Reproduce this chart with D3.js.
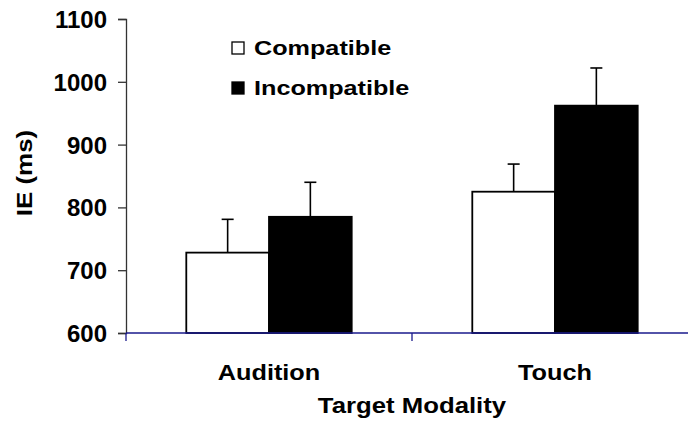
<!DOCTYPE html>
<html>
<head>
<meta charset="utf-8">
<script src="https://cdn.jsdelivr.net/npm/d3@7"></script>
<style>
  html, body { margin: 0; padding: 0; background: #fff; }
  svg text { font-family: "Liberation Sans", Arial, sans-serif; font-weight: bold; fill: #000; }
</style>
</head>
<body>
<svg id="chart" width="688" height="421"></svg>
<script>
// Inhibitory effect (IE) by target modality and compatibility
const categories = ["Audition", "Touch"];
const seriesNames = ["Compatible", "Incompatible"];
const compatibleMeans = [728, 825];
const incompatibleMeans = [785, 962];
const compatibleErr = [53, 44];
const incompatibleErr = [55, 60];
const yTicks = [600, 700, 800, 900, 1000, 1100];

const svg = d3.select("#chart");
const plotLeft = 126, plotTop = 19, plotBottom = 333, plotRight = 698;

const y = d3.scaleLinear().domain([600, 1100]).range([plotBottom, plotTop]);
const x0 = d3.scaleBand().domain(categories).range([plotLeft, plotRight]).paddingInner(0).paddingOuter(0);
const x1 = d3.scaleBand().domain(seriesNames).range([0, x0.bandwidth()]).paddingInner(0).paddingOuter(0.729);

const fills = { "Compatible": "#fff", "Incompatible": "#000" };
const rows = categories.map((c, i) => ({
  cat: c,
  vals: [
    { s: "Compatible", v: compatibleMeans[i], e: compatibleErr[i] },
    { s: "Incompatible", v: incompatibleMeans[i], e: incompatibleErr[i] }
  ]
}));

// wide bold label: text placed in a group that is stretched horizontally
function wideText(parent, tx, ty, rot, sx, size, anchor, str) {
  const g = parent.append("g")
    .attr("transform", `translate(${tx},${ty}) rotate(${rot}) scale(${sx},1)`);
  g.append("text").attr("x", 0).attr("y", 0)
    .attr("text-anchor", anchor).attr("font-size", size).text(str);
  return g;
}

// y axis
const yAxis = svg.append("g").attr("transform", `translate(${plotLeft},0)`)
  .call(d3.axisLeft(y).tickValues(yTicks).tickSize(8).tickPadding(11).tickFormat(d3.format("d")));
yAxis.select(".domain").attr("stroke", "#333").attr("stroke-width", 1.3);
yAxis.selectAll(".tick line").attr("stroke", "#333").attr("stroke-width", 1.3);
yAxis.selectAll(".tick text").attr("font-size", 24).attr("font-family", "Liberation Sans, Arial, sans-serif")
  .attr("font-weight", "bold").attr("fill", "#000").attr("dy", "0.35em");

// error bars (drawn under the bars so each stem starts at the bar top)
const groups = svg.append("g").selectAll("g").data(rows).join("g")
  .attr("transform", d => `translate(${x0(d.cat)},0)`);

groups.selectAll("g.err").data(d => d.vals).join("g").attr("class", "err")
  .each(function(d) {
    const cx = x1(d.s) + x1.bandwidth() / 2;
    const g = d3.select(this);
    g.append("line").attr("x1", cx).attr("x2", cx).attr("y1", y(d.v)).attr("y2", y(d.v + d.e))
      .attr("stroke", "#000").attr("stroke-width", 1.6);
    g.append("line").attr("x1", cx - 6).attr("x2", cx + 6).attr("y1", y(d.v + d.e)).attr("y2", y(d.v + d.e))
      .attr("stroke", "#000").attr("stroke-width", 1.6);
  });

groups.selectAll("rect").data(d => d.vals).join("rect")
  .attr("x", d => x1(d.s))
  .attr("y", d => y(d.v))
  .attr("width", x1.bandwidth())
  .attr("height", d => y(600) - y(d.v))
  .attr("fill", d => fills[d.s])
  .attr("stroke", "#000")
  .attr("stroke-width", 1.8);

// x axis with category boundary ticks
const xAxis = svg.append("g").attr("transform", `translate(0,${plotBottom})`);
xAxis.append("line").attr("x1", plotLeft).attr("x2", plotRight).attr("y1", 0).attr("y2", 0)
  .attr("stroke", "#1a1a8c").attr("stroke-width", 1.3);
const bounds = [plotLeft, ...categories.map(c => x0(c) + x0.bandwidth())];
xAxis.selectAll("line.t").data(bounds).join("line").attr("class", "t")
  .attr("x1", d => d).attr("x2", d => d).attr("y1", 0).attr("y2", 8)
  .attr("stroke", "#1a1a8c").attr("stroke-width", 1.3);

// category labels and axis titles
categories.forEach(c => wideText(svg, x0(c) + x0.bandwidth() / 2, 380, 0, 1.15, 22, "middle", c));
wideText(svg, x0("Touch"), 413, 0, 1.17, 22, "middle", "Target Modality");
wideText(svg, 32, 173, -90, 1.18, 22, "middle", "IE (ms)");

// legend
const legend = svg.append("g").selectAll("g").data(seriesNames).join("g")
  .attr("transform", (d, i) => `translate(232,${42 + i * 40})`);
legend.append("rect").attr("x", 0).attr("y", 0).attr("width", 12).attr("height", 12)
  .attr("fill", d => fills[d]).attr("stroke", "#000").attr("stroke-width", 1.3);
legend.each(function(d) { wideText(d3.select(this), 22, 13, 0, 1.2, 21, "start", d); });
</script>
</body>
</html>
